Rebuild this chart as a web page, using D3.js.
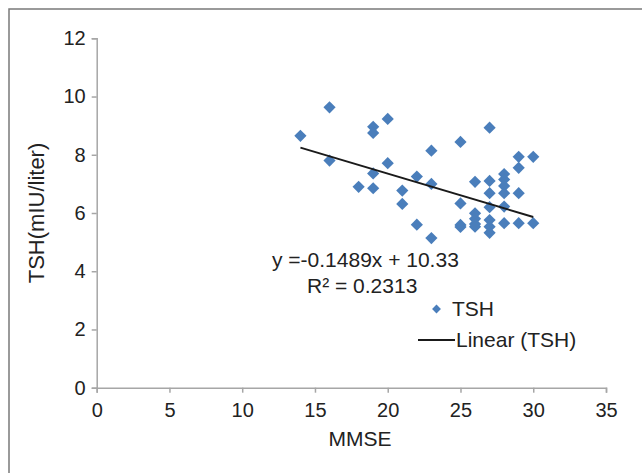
<!DOCTYPE html>
<html>
<head>
<meta charset="utf-8">
<script src="https://cdn.jsdelivr.net/npm/d3@7"></script>
<style>
  body { margin: 0; background: #fff; }
  text { font-family: "Liberation Sans", Arial, sans-serif; fill: #222; }
</style>
</head>
<body>
<div id="chart"></div>
<script>
// MMSE score (x) and TSH (y)
var mmse = [14, 16, 16, 18, 19, 19, 19, 19, 20, 20, 21, 21, 22, 22, 23, 23, 23,
    25, 25, 25, 25, 26, 26, 26, 26, 26, 27, 27, 27, 27, 27, 27, 27,
    28, 28, 28, 28, 28, 28, 29, 29, 29, 29, 30, 30];
var tsh = [8.65, 9.63, 7.80, 6.90, 8.96, 8.75, 7.36, 6.85, 9.23, 7.71, 6.77, 6.31, 7.25, 5.60, 8.14, 7.00, 5.14,
    8.44, 6.33, 5.59, 5.52, 7.07, 5.99, 5.80, 5.62, 5.53, 8.93, 7.10, 6.68, 6.20, 5.76, 5.53, 5.32,
    7.34, 7.15, 6.93, 6.68, 6.22, 5.65, 7.93, 7.55, 6.68, 5.65, 7.93, 5.65];
var xTicks = [0, 5, 10, 15, 20, 25, 30, 35];
var yTicks = [0, 2, 4, 6, 8, 10, 12];
var slope = -0.1489, intercept = 10.33;
var eqText = "y =-0.1489x + 10.33";
var r2Text = "R\u00b2 = 0.2313";

var width = 642, height = 473;
var margin = {top: 38.3, right: 36, bottom: 85.3, left: 96.7};
var blue = "#4a7ebb", axisGrey = "#a6a6a6";

var svg = d3.select("#chart").append("svg")
    .attr("width", width)
    .attr("height", height);

// outer frame
svg.append("rect")
    .attr("x", 9).attr("y", 9)
    .attr("width", 700).attr("height", 600)
    .attr("fill", "none")
    .attr("stroke", "#7a7a7a")
    .attr("stroke-width", 1.5);

var x = d3.scaleLinear().domain([0, 35]).range([margin.left, width - margin.right]);
var y = d3.scaleLinear().domain([0, 12]).range([height - margin.bottom, margin.top]);

// axes
var xAxis = svg.append("g")
    .attr("transform", "translate(0," + y(0) + ")")
    .call(d3.axisBottom(x).tickValues(xTicks).tickSize(5).tickPadding(10).tickFormat(d3.format("d")));
var yAxis = svg.append("g")
    .attr("transform", "translate(" + x(0) + ",0)")
    .call(d3.axisLeft(y).tickValues(yTicks).tickSize(5).tickPadding(6).tickFormat(d3.format("d")));

[xAxis, yAxis].forEach(function(g){
    g.selectAll("path, line").attr("stroke", axisGrey).attr("stroke-width", 1.5);
    g.selectAll("text")
        .style("font-family", '"Liberation Sans", Arial, sans-serif')
        .style("font-size", "20px")
        .attr("fill", "#222");
});

// axis titles
svg.append("text")
    .attr("x", 360)
    .attr("y", 446)
    .attr("text-anchor", "middle")
    .style("font-size", "21px")
    .text("MMSE");
svg.append("text")
    .attr("transform", "translate(44," + (y(0) + y(12)) / 2 + ") rotate(-90)")
    .attr("text-anchor", "middle")
    .style("font-size", "22px")
    .text("TSH(mIU/liter)");

// points
var diamond = d3.symbol().type(d3.symbolDiamond2).size(95);
svg.append("g").selectAll("path")
    .data(mmse)
    .enter().append("path")
    .attr("d", diamond)
    .attr("transform", function(d, i){ return "translate(" + x(d) + "," + y(tsh[i]) + ")"; })
    .attr("fill", blue);

// trend line
var x0 = d3.min(mmse), x1 = d3.max(mmse);
svg.append("line")
    .attr("x1", x(x0)).attr("y1", y(slope * x0 + intercept))
    .attr("x2", x(x1)).attr("y2", y(slope * x1 + intercept))
    .attr("stroke", "#1a1a1a")
    .attr("stroke-width", 2);

// equation
svg.append("text").attr("x", 272).attr("y", 267).style("font-size", "21px").text(eqText);
svg.append("text").attr("x", 307).attr("y", 293).style("font-size", "21px").text(r2Text);

// legend
svg.append("path")
    .attr("d", d3.symbol().type(d3.symbolDiamond2).size(50))
    .attr("transform", "translate(436.5,309)")
    .attr("fill", blue);
svg.append("text").attr("x", 452).attr("y", 316).style("font-size", "21px").text("TSH");
svg.append("line")
    .attr("x1", 418).attr("x2", 455).attr("y1", 340).attr("y2", 340)
    .attr("stroke", "#1a1a1a").attr("stroke-width", 2);
svg.append("text").attr("x", 456).attr("y", 347).style("font-size", "21px").text("Linear (TSH)");
</script>
</body>
</html>
